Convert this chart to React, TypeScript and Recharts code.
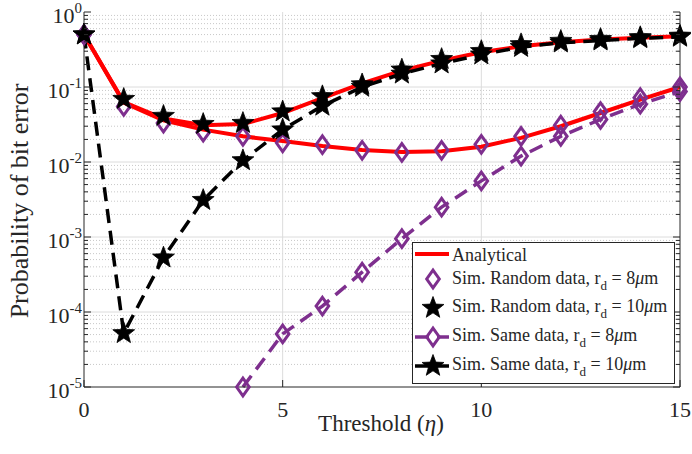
import React from 'react';
import { LineChart, Line, XAxis, YAxis, CartesianGrid, Legend } from 'recharts';

// ---------- data ----------
const thresholds = [0, 1, 2, 3, 4, 5, 6, 7, 8, 9, 10, 11, 12, 13, 14, 15];
const analytical8 = [0.5, 0.062, 0.036, 0.027, 0.022, 0.019, 0.0163, 0.0145, 0.0136, 0.0139, 0.016, 0.021, 0.03, 0.045, 0.068, 0.1];
const analytical10 = [0.5, 0.063, 0.038, 0.031, 0.032, 0.045, 0.071, 0.112, 0.165, 0.225, 0.29, 0.35, 0.395, 0.43, 0.455, 0.475];
const simRandom8 = [0.5, 0.055, 0.033, 0.025, 0.022, 0.018, 0.017, 0.0143, 0.0134, 0.0143, 0.0172, 0.022, 0.031, 0.047, 0.072, 0.1];
const simRandom10 = [0.5, 0.069, 0.041, 0.032, 0.033, 0.047, 0.075, 0.108, 0.17, 0.235, 0.3, 0.37, 0.41, 0.435, 0.46, 0.48];
const simSame8: (number | null)[] = [0.5, null, null, null, 1e-5, 5.1e-5, 1.2e-4, 3.4e-4, 9.5e-4, 2.5e-3, 5.6e-3, 0.012, 0.022, 0.037, 0.059, 0.087];
const simSame10 = [0.5, 5.2e-5, 5.3e-4, 3.1e-3, 0.0105, 0.027, 0.056, 0.1, 0.15, 0.205, 0.27, 0.34, 0.39, 0.415, 0.445, 0.465];

const xTicks = [0, 5, 10, 15];
const yMajorExponents = [-5, -4, -3, -2, -1, 0];
const yMinorMultipliers = [2, 3, 4, 5, 6, 7, 8, 9];

const xLabelText = 'Threshold (';
const xLabelSymbol = 'η';
const yLabelText = 'Probability of bit error';
const legendAnalytical = 'Analytical';
const legendRandom = 'Sim. Random data, r';
const legendSame = 'Sim. Same data, r';

// ---------- derived ----------
const data = thresholds.map((t, i) => ({
  t,
  a8: analytical8[i],
  a10: analytical10[i],
  r8: simRandom8[i],
  r10: simRandom10[i],
  s8: simSame8[i],
  s10: simSame10[i],
}));

const yMajor = yMajorExponents.map((e) => Math.pow(10, e));
const yMinor: number[] = [];
yMajorExponents.slice(0, -1).forEach((e) => yMinorMultipliers.forEach((m) => yMinor.push(m * Math.pow(10, e))));
const yAllTicks = [...yMajor, ...yMinor].sort((a, b) => a - b);
const yGridMajor = yMajor.slice(1, -1);

// ---------- style ----------
const FONT = "'Liberation Serif', 'Times New Roman', serif";
const AXIS = '#262626';
const RED = '#ff0000';
const PURPLE = '#7e2f8e';
const W = 692;
const H = 454;
const TXT = { fontFamily: FONT };

const isMajor = (v: number) => {
  const lg = Math.log10(v);
  return Math.abs(lg - Math.round(lg)) < 1e-6;
};

const starPath = (cx: number, cy: number, R: number, ratio: number) => {
  const pts: string[] = [];
  for (let k = 0; k < 10; k++) {
    const r = k % 2 === 0 ? R : R * ratio;
    const a = -Math.PI / 2 + (k * Math.PI) / 5;
    pts.push(`${(cx + r * Math.cos(a)).toFixed(2)},${(cy + r * Math.sin(a)).toFixed(2)}`);
  }
  return `M${pts.join('L')}Z`;
};
const diamondPath = (cx: number, cy: number, hw: number, hh: number) =>
  `M${cx},${cy - hh}L${cx + hw},${cy}L${cx},${cy + hh}L${cx - hw},${cy}Z`;

const Star = ({ cx, cy }: { cx: number; cy: number }) => (
  <path d={starPath(cx, cy, 11.5, 0.42)} fill="#000" stroke="#000" strokeWidth={0.8} strokeLinejoin="miter" />
);
const Diamond = ({ cx, cy }: { cx: number; cy: number }) => (
  <path d={diamondPath(cx, cy, 6.3, 8.8)} fill="none" stroke={PURPLE} strokeWidth={3} strokeLinejoin="miter" />
);

const makeDot = (prefix: string, kind: 'star' | 'diamond') => (props: any) => {
  const { cx, cy, index, value } = props;
  const key = `${prefix}-${index}`;
  if (cx == null || cy == null || value == null || Number.isNaN(cy)) return <g key={key} />;
  return <g key={key}>{kind === 'star' ? <Star cx={cx} cy={cy} /> : <Diamond cx={cx} cy={cy} />}</g>;
};

// ---------- ticks ----------
const LeftTick = (props: any) => {
  const { x, y, payload } = props;
  const v = payload.value;
  const major = isMajor(v);
  const e = Math.round(Math.log10(v));
  return (
    <g>
      <line x1={x} y1={y} x2={x + (major ? 7 : 4)} y2={y} stroke={AXIS} strokeWidth={1} />
      {major && (
        <text x={x - 2} y={y + 11} textAnchor="end" fontFamily={FONT} style={TXT} fontSize={22} fill={AXIS}>
          10
          <tspan dy={-10} fontSize={15}>{e}</tspan>
        </text>
      )}
    </g>
  );
};
const RightTick = (props: any) => {
  const { x, y, payload } = props;
  const major = isMajor(payload.value);
  return <line x1={x} y1={y} x2={x - (major ? 7 : 4)} y2={y} stroke={AXIS} strokeWidth={1} />;
};
const BottomTick = (props: any) => {
  const { x, y, payload } = props;
  return (
    <g>
      <line x1={x} y1={y} x2={x} y2={y - 7} stroke={AXIS} strokeWidth={1} />
      <text x={x} y={y + 29.5} textAnchor="middle" fontFamily={FONT} style={TXT} fontSize={22} fill={AXIS}>
        {payload.value}
      </text>
    </g>
  );
};
const TopTick = (props: any) => {
  const { x, y } = props;
  return <line x1={x} y1={y} x2={x} y2={y + 7} stroke={AXIS} strokeWidth={1} />;
};

const XLabel = () => (
  <text x={381} y={431} textAnchor="middle" fontFamily={FONT} style={TXT} fontSize={23} fill={AXIS}>
    {xLabelText}
    <tspan fontStyle="italic">{xLabelSymbol}</tspan>)
  </text>
);
const YLabel = () => (
  <text x={-201} y={28} transform="rotate(-90)" textAnchor="middle" fontFamily={FONT} style={TXT} fontSize={26} fill={AXIS}>
    {yLabelText}
  </text>
);

// ---------- legend ----------
const LW = 263;
const LH = 142;
const EntryText = ({ y, prefix, value }: { y: number; prefix: string; value: string }) => (
  <text x={40} y={y} fontFamily={FONT} style={TXT} fontSize={18} fill={AXIS}>
    {prefix}
    <tspan dy={6} fontSize={13}>d</tspan>
    <tspan dy={-6}>{` = ${value}`}</tspan>
    <tspan fontStyle="italic">μ</tspan>m
  </text>
);
const LegendBox = () => (
  <svg width={LW} height={LH} style={{ display: 'block', fontFamily: FONT }}>
    <rect x={0.5} y={0.5} width={LW - 1} height={LH - 1} fill="#fff" stroke={AXIS} strokeWidth={1} />
    <line x1={3} y1={12} x2={37} y2={12} stroke={RED} strokeWidth={4} />
    <text x={40} y={19} fontFamily={FONT} style={TXT} fontSize={18} fill={AXIS}>{legendAnalytical}</text>
    <Diamond cx={21} cy={37} />
    <EntryText y={42} prefix={legendRandom} value="8" />
    <Star cx={21} cy={66} />
    <EntryText y={70} prefix={legendRandom} value="10" />
    <line x1={3} y1={95} x2={37} y2={95} stroke={PURPLE} strokeWidth={3.5} strokeDasharray="14 8" />
    <Diamond cx={21} cy={95} />
    <EntryText y={99} prefix={legendSame} value="8" />
    <line x1={3} y1={124} x2={37} y2={124} stroke="#000" strokeWidth={3.5} strokeDasharray="14 8" />
    <Star cx={21} cy={124} />
    <EntryText y={128} prefix={legendSame} value="10" />
  </svg>
);

export default function App() {
  return (
    <div style={{ position: 'absolute', left: 0, top: 0, width: W, height: H, background: '#fff', fontFamily: FONT }}>
      <LineChart width={W} height={H} data={data} margin={{ top: 12, right: 0, bottom: 0, left: 0 }}>
        <CartesianGrid vertical={false} horizontalValues={yMinor} stroke="#c8c8c8" strokeDasharray="1 2" />
        <CartesianGrid horizontalValues={yGridMajor} verticalValues={[5, 10]} stroke="#dcdcdc" />
        <XAxis
          dataKey="t"
          type="number"
          domain={[0, 15]}
          ticks={xTicks}
          interval={0}
          height={67}
          tickSize={0}
          tickMargin={0}
          tickLine={false}
          axisLine={{ stroke: AXIS, strokeWidth: 1 }}
          tick={BottomTick}
          label={<XLabel />}
        />
        <XAxis
          xAxisId="top"
          orientation="top"
          type="number"
          domain={[0, 15]}
          allowDataOverflow
          ticks={xTicks}
          interval={0}
          height={0}
          tickSize={0}
          tickMargin={0}
          tickLine={false}
          axisLine={{ stroke: AXIS, strokeWidth: 1 }}
          tick={TopTick}
        />
        <YAxis
          type="number"
          scale="log"
          domain={[1e-5, 1]}
          ticks={yAllTicks}
          interval={0}
          width={84}
          tickSize={0}
          tickMargin={0}
          tickLine={false}
          axisLine={{ stroke: AXIS, strokeWidth: 1 }}
          tick={LeftTick}
          label={<YLabel />}
        />
        <YAxis
          yAxisId="right"
          orientation="right"
          type="number"
          scale="log"
          domain={[1e-5, 1]}
          allowDataOverflow
          ticks={yAllTicks}
          interval={0}
          width={12}
          tickSize={0}
          tickMargin={0}
          tickLine={false}
          axisLine={{ stroke: AXIS, strokeWidth: 1 }}
          tick={RightTick}
        />
        <Line dataKey="a10" type="linear" stroke={RED} strokeWidth={4} dot={false} activeDot={false} isAnimationActive={false} legendType="none" />
        <Line dataKey="a8" type="linear" stroke={RED} strokeWidth={4} dot={false} activeDot={false} isAnimationActive={false} legendType="none" />
        <Line dataKey="r8" stroke="none" dot={makeDot('r8', 'diamond')} activeDot={false} isAnimationActive={false} legendType="none" />
        <Line dataKey="r10" stroke="none" dot={makeDot('r10', 'star')} activeDot={false} isAnimationActive={false} legendType="none" />
        <Line dataKey="s8" stroke={PURPLE} strokeWidth={3.5} strokeDasharray="14 8" dot={makeDot('s8', 'diamond')} activeDot={false} isAnimationActive={false} legendType="none" />
        <Line dataKey="s10" stroke="#000" strokeWidth={3.5} strokeDasharray="14 8" dot={makeDot('s10', 'star')} activeDot={false} isAnimationActive={false} legendType="none" />
        <Legend
          layout="vertical"
          align="center"
          verticalAlign="middle"
          content={() => <LegendBox />}
          wrapperStyle={{ position: 'absolute', left: 412, top: 242, width: LW, height: LH, margin: 0, padding: 0 }}
        />
      </LineChart>
    </div>
  );
}
